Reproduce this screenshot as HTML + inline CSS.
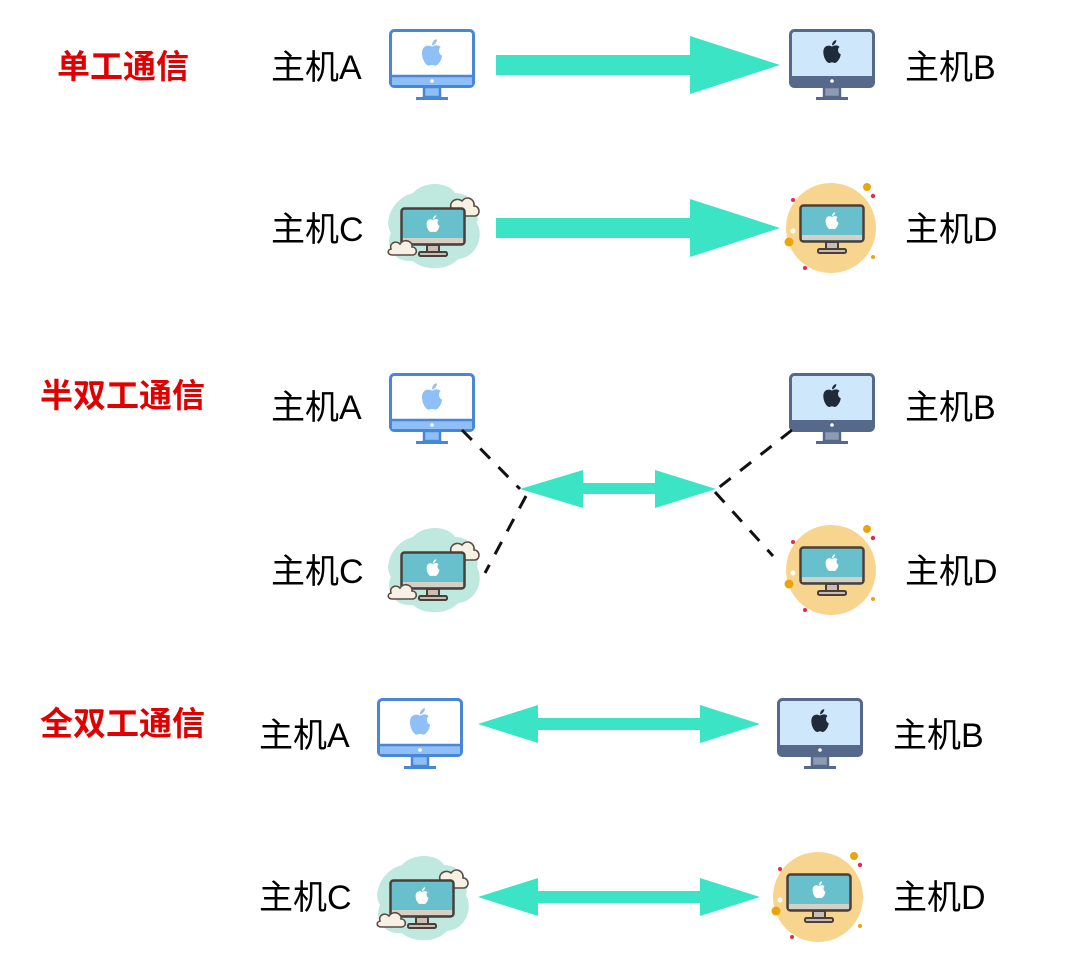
<!DOCTYPE html>
<html><head><meta charset="utf-8"><style>
html,body{margin:0;padding:0;background:#fff;}
svg{display:block;}
text{font-family:"Liberation Sans","Noto Sans CJK SC",sans-serif;}
</style></head><body>
<svg width="1080" height="959" viewBox="0 0 1080 959" xmlns="http://www.w3.org/2000/svg">
<defs>
<symbol id="apple" viewBox="0 0 20 24" overflow="visible">
<path d="M10 7 C7 5 2 6 2 12 C2 18 6 23 8 22 C9 21.5 11 21.5 12 22 C14 23 18 18 18 14 C15 13 15 8 17 7.5 C15 5 12 6 10 7 Z M10 6 C10 3 12 1 14 1 C14 3.5 12 5.5 10 6 Z"/>
</symbol>
<symbol id="icA" viewBox="0 0 86 72" overflow="visible">
<rect x="1.5" y="1.5" width="83" height="56" rx="4" fill="#fff" stroke="#4a86d6" stroke-width="3"/>
<rect x="3" y="47" width="80" height="9" fill="#8fbff7"/>
<line x1="3" y1="47" x2="83" y2="47" stroke="#4a86d6" stroke-width="2.5"/>
<circle cx="43" cy="52" r="1.8" fill="#fff"/>
<rect x="35" y="58" width="16" height="10" fill="#8fbff7" stroke="#4a86d6" stroke-width="2.5"/>
<rect x="27" y="68" width="32" height="3" fill="#4a86d6"/>
<use href="#apple" x="30" y="9" width="26" height="30" fill="#8fbff7"/>
</symbol>
<symbol id="icB" viewBox="0 0 86 72" overflow="visible">
<rect x="1.5" y="1.5" width="83" height="56" rx="4" fill="#cfe7fb" stroke="#56698a" stroke-width="3"/>
<rect x="3" y="47" width="80" height="9" fill="#56698a"/>
<circle cx="43" cy="52" r="1.8" fill="#fff"/>
<rect x="35" y="58" width="16" height="10" fill="#8d9bb3" stroke="#56698a" stroke-width="2.5"/>
<rect x="27" y="68" width="32" height="3" fill="#56698a"/>
<use href="#apple" x="32" y="10" width="22" height="26" fill="#1f2a3a"/>
</symbol>
<symbol id="mon" viewBox="0 0 66 52" overflow="visible">
<rect x="1.5" y="1.5" width="63" height="36" rx="3" fill="#67c0cc" stroke="#4a3f3a" stroke-width="2.5"/>
<rect x="3" y="31" width="60" height="5" fill="#d6cfc4"/>
<rect x="27" y="38" width="12" height="7" fill="#c8bfb2" stroke="#4a3f3a" stroke-width="2"/>
<rect x="19" y="45" width="28" height="4" rx="1.5" fill="#c8bfb2" stroke="#4a3f3a" stroke-width="2"/>
<use href="#apple" x="25" y="7" width="16" height="20" fill="#fff"/>
</symbol>
<symbol id="icC" viewBox="0 0 104 86" overflow="visible">
<path d="M30 10 C40 -2 65 -2 72 10 C88 10 98 25 94 40 C102 55 92 75 75 76 C65 88 40 88 30 78 C10 80 2 62 8 50 C0 38 10 15 30 10 Z" fill="#bfe8df"/>
<path d="M68 25 C66 18 74 14 79 18 C84 12 92 16 91 23 C97 23 98 32 92 33 L70 33 C64 33 63 26 68 25 Z" fill="#f7f1e3" stroke="#5a4b45" stroke-width="1.6"/>
<use href="#mon" x="17" y="24" width="66" height="52"/>
<path d="M8 66 C6 60 13 57 17 61 C21 55 30 58 29 64 C34 64 35 71 30 72 L10 72 C4 72 4 67 8 66 Z" fill="#f7f1e3" stroke="#5a4b45" stroke-width="1.6"/>
</symbol>
<symbol id="icD" viewBox="0 0 104 96" overflow="visible">
<circle cx="52" cy="48" r="45" fill="#f8d58f"/>
<use href="#mon" x="20" y="24" width="66" height="52"/>
<circle cx="88" cy="7" r="4" fill="#eba40e"/>
<circle cx="94" cy="16" r="2.2" fill="#e8284a"/>
<circle cx="14" cy="20" r="2" fill="#e8284a"/>
<circle cx="10" cy="62" r="4.5" fill="#eba40e"/>
<circle cx="14" cy="51" r="2.5" fill="#fff"/>
<circle cx="26" cy="88" r="2" fill="#e8284a"/>
<circle cx="94" cy="77" r="2" fill="#eba40e"/>
</symbol>
</defs>

<g fill="#e00000" font-weight="bold" font-size="33">
<text x="57" y="78">单工通信</text>
<text x="40" y="407">半双工通信</text>
<text x="40" y="735">全双工通信</text>
</g>
<g fill="#000" font-size="34">
<text x="271" y="79">主机A</text>
<text x="905" y="79">主机B</text>
<text x="271" y="241">主机C</text>
<text x="905" y="241">主机D</text>
<text x="271" y="419">主机A</text>
<text x="905" y="419">主机B</text>
<text x="271" y="583">主机C</text>
<text x="905" y="583">主机D</text>
<text x="259" y="747">主机A</text>
<text x="893" y="747">主机B</text>
<text x="259" y="909">主机C</text>
<text x="893" y="909">主机D</text>
</g>

<use href="#icA" x="389" y="29" width="86" height="72"/>
<use href="#icB" x="789" y="29" width="86" height="72"/>
<use href="#icC" x="383" y="183" width="104" height="86"/>
<use href="#icD" x="779" y="180" width="104" height="96"/>

<use href="#icA" x="389" y="373" width="86" height="72"/>
<use href="#icB" x="789" y="373" width="86" height="72"/>
<use href="#icC" x="383" y="527" width="104" height="86"/>
<use href="#icD" x="779" y="522" width="104" height="96"/>

<use href="#icA" x="377" y="698" width="86" height="72"/>
<use href="#icB" x="777" y="698" width="86" height="72"/>
<use href="#icC" x="372" y="855" width="104" height="86"/>
<use href="#icD" x="766" y="849" width="104" height="96"/>

<g fill="#3ae4c4">
<polygon points="496,55 690,55 690,36 780,65 690,94 690,75 496,75"/>
<polygon points="496,218 690,218 690,199 780,228 690,257 690,238 496,238"/>
<polygon points="520,489 583,470 583,483 655,483 655,470 716,489 655,508 655,494 583,494 583,508"/>
<polygon points="478,724 538,705 538,718 700,718 700,705 760,724 700,743 700,730 538,730 538,743"/>
<polygon points="478,897 538,878 538,891 700,891 700,878 760,897 700,916 700,903 538,903 538,916"/>
</g>
<g stroke="#111" stroke-width="3" stroke-dasharray="14,12" fill="none">
<line x1="462" y1="430" x2="520" y2="489"/>
<line x1="526" y1="496" x2="485" y2="573"/>
<line x1="792" y1="430" x2="717" y2="489"/>
<line x1="715" y1="492" x2="773" y2="556"/>
</g>
</svg>
</body></html>
